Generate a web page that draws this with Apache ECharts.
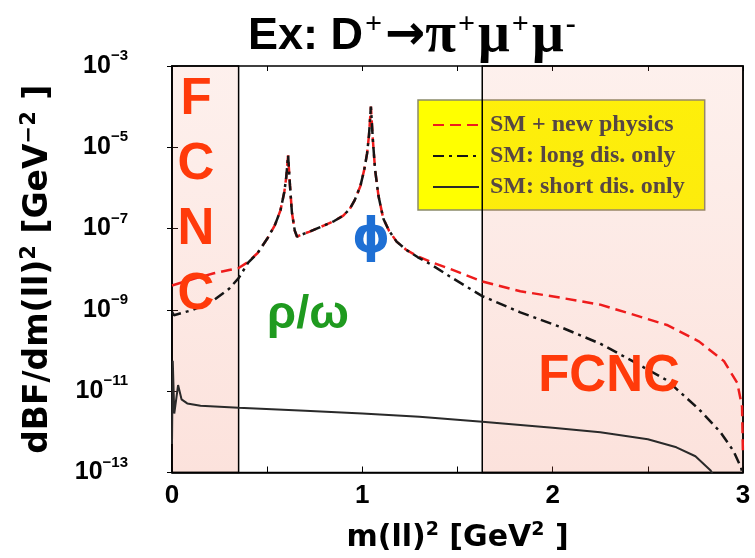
<!DOCTYPE html>
<html>
<head>
<meta charset="utf-8">
<script src="https://cdn.jsdelivr.net/npm/echarts@6/dist/echarts.min.js"></script>
<style>html,body{margin:0;padding:0;background:#fff}#c{width:755px;height:558px}</style>
</head>
<body>
<div id="c"></div>
<script>
// ---- data (x = m(ll)^2 in GeV^2, values given as log10 of dBF/dm^2) ----
const xRed = [0.00,0.11,0.22,0.30,0.35,0.40,0.45,0.50,0.54,0.57,0.59,0.60,0.61,0.62,0.63,0.645,0.657,0.68,0.72,0.76,0.80,0.85,0.90,0.935,0.96,0.99,1.01,1.025,1.035,1.045,1.055,1.067,1.085,1.11,1.14,1.18,1.23,1.29,1.36,1.46,1.63,1.83,2.04,2.25,2.42,2.60,2.77,2.90,2.97,2.995,3.00];
const logRed = [-8.40,-8.24,-8.10,-8.02,-7.97,-7.82,-7.60,-7.25,-6.92,-6.55,-6.10,-5.75,-5.20,-5.95,-6.60,-7.05,-7.20,-7.15,-7.08,-7.00,-6.92,-6.82,-6.68,-6.51,-6.30,-5.95,-5.55,-5.15,-4.70,-4.00,-4.80,-5.55,-6.20,-6.75,-7.05,-7.32,-7.52,-7.68,-7.82,-7.99,-8.30,-8.54,-8.70,-8.87,-9.11,-9.37,-9.78,-10.26,-10.80,-11.38,-12.60];

const xLong = [0.00,0.01,0.11,0.22,0.30,0.35,0.40,0.45,0.50,0.54,0.57,0.59,0.60,0.61,0.62,0.63,0.645,0.657,0.68,0.72,0.76,0.80,0.85,0.90,0.935,0.96,0.99,1.01,1.025,1.035,1.045,1.055,1.067,1.085,1.11,1.14,1.18,1.23,1.29,1.36,1.46,1.63,1.83,2.04,2.25,2.42,2.60,2.77,2.88,2.95,2.99,3.00];
const logLong = [-9.05,-9.13,-9.00,-8.76,-8.48,-8.22,-7.84,-7.60,-7.25,-6.92,-6.55,-6.10,-5.75,-5.20,-5.95,-6.60,-7.05,-7.20,-7.15,-7.08,-7.00,-6.92,-6.82,-6.68,-6.51,-6.30,-5.95,-5.55,-5.15,-4.70,-4.00,-4.80,-5.55,-6.20,-6.75,-7.05,-7.32,-7.52,-7.70,-7.88,-8.18,-8.66,-9.06,-9.42,-9.83,-10.26,-10.73,-11.45,-12.00,-12.47,-12.88,-13.10];

const xShort = [0.000,0.004,0.012,0.032,0.05,0.08,0.15,0.35,0.70,1.00,1.30,1.63,2.00,2.25,2.50,2.65,2.75,2.83,2.87];
const logShort = [-12.30,-10.25,-11.55,-10.85,-11.20,-11.30,-11.36,-11.41,-11.48,-11.55,-11.63,-11.75,-11.90,-12.01,-12.18,-12.38,-12.60,-12.95,-13.30];

const seriesNames = ['SM + new physics', 'SM: long dis. only', 'SM: short dis. only'];
const fcncRegions = [[0, 0.35], [1.63, 3]];
const xTickLabels = ['0', '1', '2', '3'];

const toData = (xs, ls) => xs.map((x, i) => [x, Math.pow(10, ls[i])]);

const chart = echarts.init(document.getElementById('c'));
const sans = 'Liberation Sans';
const supY = {fontSize: 15, fontFamily: sans, fontWeight: 'bold', color: '#000', padding: [0, 0, 20, 0]};

const option = {
  animation: false,
  backgroundColor: '#ffffff',
  title: {
    left: 243, top: 4,
    text: '{a|Ex: D}{s|+}{r|→}{g|π}{s|+}{g|μ}{s|+}{g|μ}{s|-}',
    textStyle: {
      rich: {
        a: {fontFamily: sans, fontWeight: 'bold', fontSize: 45, color: '#000', lineHeight: 56},
        s: {fontFamily: 'Liberation Serif', fontSize: 30, color: '#000', padding: [0, 3, 24, 2]},
        r: {fontFamily: 'DejaVu Sans', fontWeight: 'bold', fontSize: 48, color: '#000'},
        g: {fontFamily: 'Liberation Serif', fontSize: 56, color: '#000'}
      }
    }
  },
  legend: {
    orient: 'vertical',
    left: 418, top: 100,
    z: 0,
    padding: [12, 20, 10, 14],
    itemGap: 5,
    itemWidth: 46, itemHeight: 20,
    backgroundColor: '#ffff00',
    borderColor: '#8a8a6a', borderWidth: 1.5,
    itemStyle: {opacity: 0},
    data: seriesNames,
    textStyle: {fontFamily: 'Liberation Serif', fontWeight: 'bold', fontSize: 24, lineHeight: 26, color: '#404040', padding: [0, 0, 0, 6]}
  },
  grid: {left: 172, right: 12, top: 66, bottom: 73, show: true, borderColor: '#000', borderWidth: 1.5, backgroundColor: 'transparent'},
  xAxis: [{
    type: 'value', min: 0, max: 3, interval: 0.5,
    axisLine: {lineStyle: {color: '#000', width: 1.5}},
    axisTick: {inside: true, length: 6, lineStyle: {color: '#000'}},
    splitLine: {show: false},
    axisLabel: {
      margin: 10, color: '#000', fontFamily: sans, fontWeight: 'bold', fontSize: 26,
      formatter: v => (Math.abs(v - Math.round(v)) < 1e-9 ? xTickLabels[Math.round(v)] : '')
    },
    name: '{n|m(ll)}{s|2}{n| [GeV}{s|2}{n| ]}',
    nameLocation: 'middle', nameGap: 48,
    nameTextStyle: {rich: {
      n: {fontFamily: 'DejaVu Sans', fontWeight: 'bold', fontSize: 30, color: '#000'},
      s: {fontFamily: 'DejaVu Sans', fontWeight: 'bold', fontSize: 19, color: '#000', padding: [0, 0, 16, 0]}
    }}
  }, {
    type: 'value', min: 0, max: 3, interval: 0.5, position: 'top',
    axisLine: {show: false}, axisLabel: {show: false}, splitLine: {show: false},
    axisTick: {inside: true, length: 5, lineStyle: {color: '#000'}}
  }],
  yAxis: [{
    type: 'log', logBase: 10, min: 1e-13, max: 1e-3, interval: 2,
    axisLine: {show: true, lineStyle: {color: '#000', width: 1.5}},
    axisTick: {show: true, inside: true, length: 6, lineStyle: {color: '#000'}},
    splitLine: {show: false},
    minorTick: {show: false},
    axisLabel: {
      margin: 44, color: '#000',
      formatter: v => '{b|10}{s|−' + Math.round(-Math.log10(v)) + '}',
      rich: {b: {fontFamily: sans, fontWeight: 'bold', fontSize: 25, color: '#000'}, s: supY}
    },
    name: '{n|dBF/dm(ll)}{s|2}{n| [GeV}{s|−2}{n| ]}',
    nameLocation: 'middle', nameGap: 114,
    nameTextStyle: {rich: {
      n: {fontFamily: 'DejaVu Sans', fontWeight: 'bold', fontSize: 33, color: '#000'},
      s: {fontFamily: 'DejaVu Sans', fontWeight: 'bold', fontSize: 21, color: '#000', padding: [0, 0, 18, 0]}
    }}
  }, {
    type: 'log', logBase: 10, min: 1e-13, max: 1e-3, interval: 2, position: 'right',
    axisLine: {show: false}, axisLabel: {show: false}, splitLine: {show: false},
    axisTick: {show: true, inside: true, length: 5, lineStyle: {color: '#000'}}
  }],
  series: [{
    name: seriesNames[0], type: 'line', symbol: 'none', z: 2,
    data: toData(xRed, logRed),
    lineStyle: {color: '#ee1c1c', width: 2.5, type: [11, 6]},
    itemStyle: {color: '#ee1c1c'},
    markArea: {
      silent: true, z: 1,
      itemStyle: {
        color: new echarts.graphic.LinearGradient(0, 0, 0, 1, [
          {offset: 0, color: 'rgba(240,120,90,0.11)'},
          {offset: 1, color: 'rgba(240,110,80,0.20)'}
        ]),
        borderColor: '#000', borderWidth: 1.5
      },
      data: fcncRegions.map(r => [{xAxis: r[0], yAxis: 1e-13}, {xAxis: r[1], yAxis: 1e-3}])
    }
  }, {
    name: seriesNames[1], type: 'line', symbol: 'none', z: 3,
    data: toData(xLong, logLong),
    lineStyle: {color: '#151515', width: 2.5, type: [11, 5, 3, 5]},
    itemStyle: {color: '#151515'}
  }, {
    name: seriesNames[2], type: 'line', symbol: 'none', z: 3,
    data: toData(xShort, logShort),
    lineStyle: {color: '#2a2a2a', width: 2},
    itemStyle: {color: '#2a2a2a'}
  }],
  graphic: [
    {type: 'text', z: 10, style: {text: 'F\nC\nN\nC', x: 196, y: 68, align: 'center', fill: '#ff3a0a', fontFamily: sans, fontWeight: 'bold', fontSize: 51, lineHeight: 64.7}},
    {type: 'text', z: 10, style: {text: 'FCNC', x: 609, y: 351, align: 'center', fill: '#ff3a0a', fontFamily: sans, fontWeight: 'bold', fontSize: 51}},
    {type: 'text', z: 10, style: {text: 'ρ/ω', x: 308, y: 292, align: 'center', fill: '#1f9a1f', fontFamily: sans, fontWeight: 'bold', fontSize: 47}},
    {type: 'text', z: 10, style: {text: 'ϕ', x: 371, y: 216, align: 'center', fill: '#1e6fd4', fontFamily: 'DejaVu Sans', fontWeight: 'bold', fontSize: 48}}
  ]
};
chart.setOption(option);
</script>
</body>
</html>
